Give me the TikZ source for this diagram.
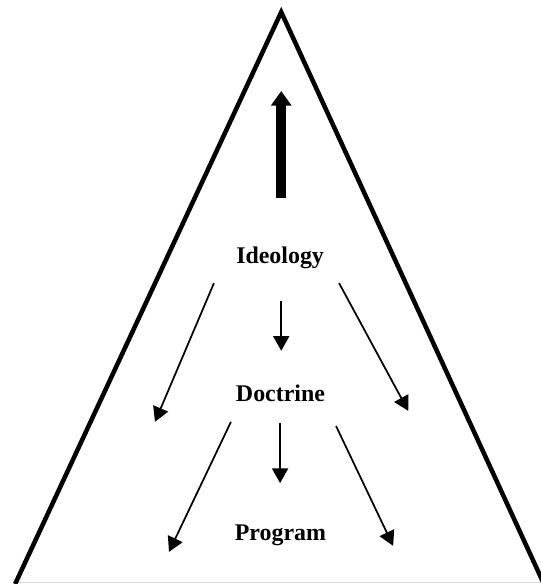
\documentclass[tikz,border=0pt]{standalone}
\usepackage{fontspec}
\setmainfont{Liberation Serif}
\usetikzlibrary{arrows.meta}

\begin{document}
\begin{tikzpicture}[every node/.style={font=\fontsize{18}{22}\selectfont\bfseries, inner sep=0pt},
  flow/.style={line width=1.3pt, -{Triangle[length=11pt, width=12pt]}},
  rise/.style={line width=7.5pt, -{Triangle[length=11pt, width=15pt]}}]
	\useasboundingbox (0,0) rectangle (14.31,15.45);
	% the pyramid
	\coordinate (top) at (7.44,15.13);
	\coordinate (bl) at (0.40,0);
	\coordinate (br) at (14.39,0);
	\coordinate (edge) at (14.31,0.03);
	\draw[gray!30, line width=0.8pt] ([yshift=0.03cm]bl) -- (edge);
	\draw[line width=3.4pt, line join=miter] (bl) -- (top) -- (br);
	% levels
	\node[anchor=base] (ideo) at (7.41,8.49) {Ideology};
	\node[anchor=base] (doc) at (7.42,4.84) {Doctrine};
	\node[anchor=base] (prog) at (7.42,1.16) {Program};
	% upward arrow
	\coordinate (r0) at (7.44,10.21);
	\coordinate (r1) at (7.44,13.04);
	\draw[rise] (r0) -- (r1);
	% ideology to doctrine
	\coordinate (a0) at (7.44,7.49);  \coordinate (a1) at (7.44,6.17);
	\coordinate (b0) at (5.66,7.96);  \coordinate (b1) at (4.10,4.29);
	\coordinate (c0) at (8.97,7.96);  \coordinate (c1) at (10.80,4.58);
	\draw[flow] (a0) -- (a1);
	\draw[flow] (b0) -- (b1);
	\draw[flow] (c0) -- (c1);
	% doctrine to program
	\coordinate (d0) at (7.41,4.26);  \coordinate (d1) at (7.41,2.67);
	\coordinate (e0) at (6.11,4.29);  \coordinate (e1) at (4.47,0.85);
	\coordinate (f0) at (8.89,4.18);  \coordinate (f1) at (10.40,1.01);
	\draw[flow] (d0) -- (d1);
	\draw[flow] (e0) -- (e1);
	\draw[flow] (f0) -- (f1);
\end{tikzpicture}
\end{document}
